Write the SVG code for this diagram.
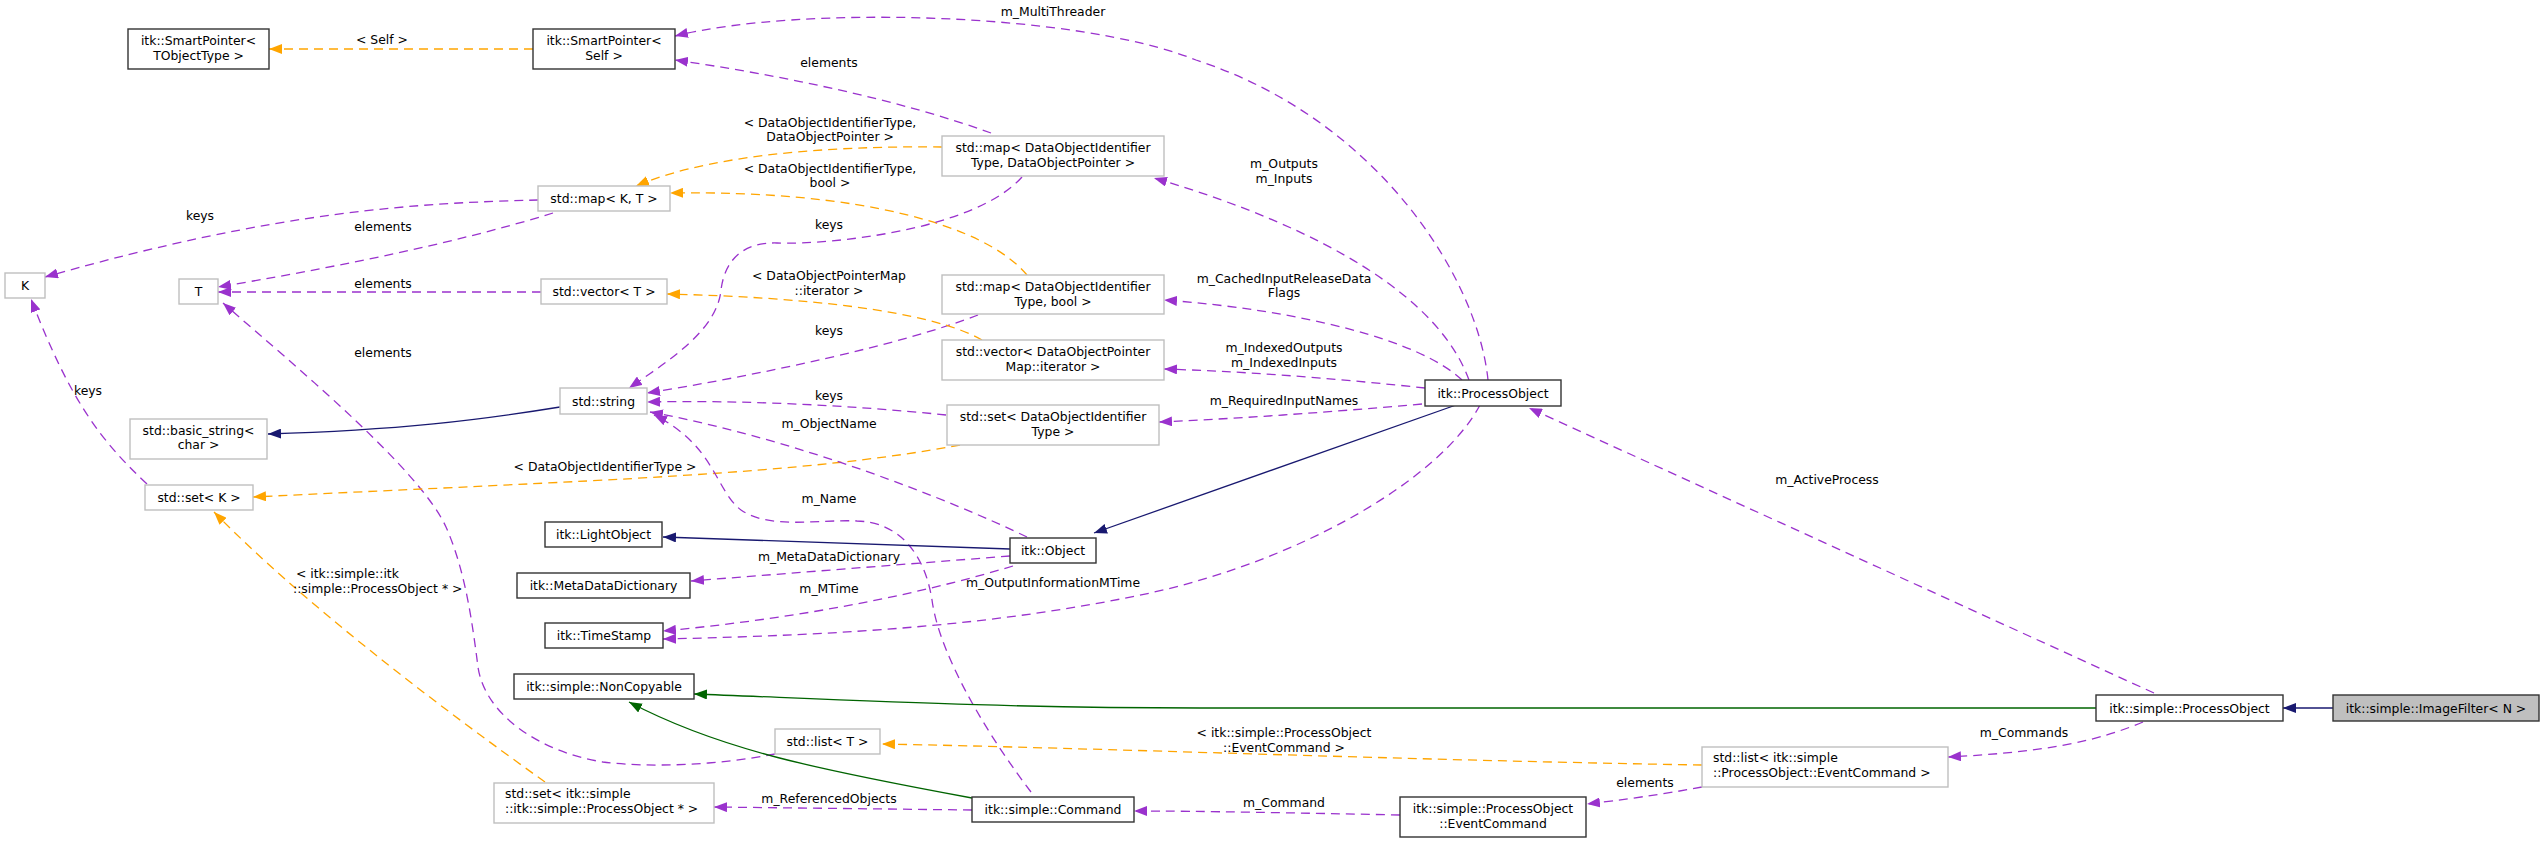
<svg xmlns="http://www.w3.org/2000/svg" width="2544" height="843" viewBox="0 0 2544 843">
<defs>
<style>
text{font-family:"DejaVu Sans","Liberation Sans",sans-serif;font-size:12.4px;fill:#000}
.c{text-anchor:middle}
.s{text-anchor:start}
.nb{fill:#fff;stroke:#333;stroke-width:1.4}
.ng{fill:#fff;stroke:#bfbfbf;stroke-width:1.4}
.nf{fill:#bfbfbf;stroke:#333;stroke-width:1.4}
.e{fill:none;stroke-width:1.3}
.p{stroke:#9a32cd;stroke-dasharray:9,6;marker-end:url(#ap)}
.o{stroke:#ffa500;stroke-dasharray:9,6;marker-end:url(#ao)}
.n{stroke:#191970;marker-end:url(#an)}
.g{stroke:#006400;marker-end:url(#ag)}
</style>
<marker id="ap" markerUnits="userSpaceOnUse" markerWidth="14" markerHeight="10" refX="13" refY="5" orient="auto"><path d="M0,0L13,5L0,10z" fill="#9a32cd"/></marker>
<marker id="ao" markerUnits="userSpaceOnUse" markerWidth="14" markerHeight="10" refX="13" refY="5" orient="auto"><path d="M0,0L13,5L0,10z" fill="#ffa500"/></marker>
<marker id="an" markerUnits="userSpaceOnUse" markerWidth="14" markerHeight="10" refX="13" refY="5" orient="auto"><path d="M0,0L13,5L0,10z" fill="#191970"/></marker>
<marker id="ag" markerUnits="userSpaceOnUse" markerWidth="14" markerHeight="10" refX="13" refY="5" orient="auto"><path d="M0,0L13,5L0,10z" fill="#006400"/></marker>
</defs>
<rect width="2544" height="843" fill="#fff"/>
<g id="connectors">
<path class="e o" d="M533,49L269,49"/>
<path class="e p" d="M1488,380C1478,280 1380,120 1196,60C1076,12 800,5 675,36"/>
<path class="e p" d="M991,133C900,100 780,75 675,60"/>
<path class="e o" d="M942,147C860,146 720,150 636,186"/>
<path class="e o" d="M1027,275C985,225 860,190 670,193"/>
<path class="e p" d="M1022,177C975,230 830,245 777,243C745,242 725,258 721,290C717,330 670,360 629,388"/>
<path class="e p" d="M978,315C900,345 760,375 647,393"/>
<path class="e p" d="M946,415C850,405 740,400 647,402"/>
<path class="e o" d="M982,340C930,310 800,297 667,294"/>
<path class="e p" d="M538,200C420,203 280,210 45,277"/>
<path class="e p" d="M553,213C450,245 320,270 218,287"/>
<path class="e p" d="M541,292L218,292"/>
<path class="e p" d="M775,754C720,765 650,768 603,762C540,752 485,715 478,667C472,620 465,570 446,527C420,470 300,370 223,303"/>
<path class="e p" d="M147,484C100,440 70,400 31,299"/>
<path class="e o" d="M960,445C800,475 600,480 253,497"/>
<path class="e o" d="M545,782C430,700 300,600 214,512"/>
<path class="e n" d="M560,407C480,420 400,430 268,434"/>
<path class="e p" d="M1027,537C950,500 800,440 650,412"/>
<path class="e p" d="M1031,792C995,745 940,660 932,600C925,555 900,522 857,521C820,519 770,530 741,510C715,490 715,445 654,415"/>
<path class="e p" d="M1469,380C1440,300 1330,230 1154,178"/>
<path class="e p" d="M1462,380C1420,340 1300,310 1164,300"/>
<path class="e p" d="M1425,388C1350,380 1260,372 1164,369"/>
<path class="e p" d="M1422,404C1330,412 1250,418 1159,422"/>
<path class="e n" d="M1456,405L1094,533"/>
<path class="e p" d="M1480,405C1440,480 1300,560 1150,593C1000,625 850,635 663,639"/>
<path class="e n" d="M1010,549L663,537"/>
<path class="e p" d="M1010,556L691,581"/>
<path class="e p" d="M1013,566C900,600 780,620 663,631"/>
<path class="e g" d="M2096,708L1200,708C1000,708 850,700 694,694"/>
<path class="e g" d="M972,798C820,770 720,750 629,702"/>
<path class="e o" d="M1702,765C1400,760 1100,748 882,744"/>
<path class="e p" d="M972,810L714,807"/>
<path class="e p" d="M1400,815C1300,813 1200,811 1134,811"/>
<path class="e p" d="M1702,787C1660,795 1620,800 1587,804"/>
<path class="e p" d="M2154,693L1529,408"/>
<path class="e p" d="M2143,722C2100,740 2050,752 1948,757"/>
<path class="e n" d="M2333,708L2283,708"/>
</g>
<g id="edge-labels">
<text class="c" x="382" y="44">&lt; Self &gt;</text>
<text class="c" x="1053" y="16">m_MultiThreader</text>
<text class="c" x="829" y="67">elements</text>
<text class="c" x="830" y="127">&lt; DataObjectIdentifierType,</text>
<text class="c" x="830" y="141">DataObjectPointer &gt;</text>
<text class="c" x="830" y="173">&lt; DataObjectIdentifierType,</text>
<text class="c" x="830" y="187">bool &gt;</text>
<text class="c" x="829" y="229">keys</text>
<text class="c" x="829" y="280">&lt; DataObjectPointerMap</text>
<text class="c" x="829" y="295">::iterator &gt;</text>
<text class="c" x="829" y="335">keys</text>
<text class="c" x="829" y="400">keys</text>
<text class="c" x="200" y="220">keys</text>
<text class="c" x="383" y="231">elements</text>
<text class="c" x="383" y="288">elements</text>
<text class="c" x="383" y="357">elements</text>
<text class="c" x="88" y="395">keys</text>
<text class="c" x="605" y="471">&lt; DataObjectIdentifierType &gt;</text>
<text class="s" x="296" y="578">&lt; itk::simple::itk</text>
<text class="s" x="293" y="593">::simple::ProcessObject * &gt;</text>
<text class="c" x="829" y="428">m_ObjectName</text>
<text class="c" x="829" y="503">m_Name</text>
<text class="c" x="829" y="561">m_MetaDataDictionary</text>
<text class="c" x="829" y="593">m_MTime</text>
<text class="c" x="1053" y="587">m_OutputInformationMTime</text>
<text class="c" x="829" y="803">m_ReferencedObjects</text>
<text class="c" x="1284" y="168">m_Outputs</text>
<text class="c" x="1284" y="183">m_Inputs</text>
<text class="c" x="1284" y="283">m_CachedInputReleaseData</text>
<text class="c" x="1284" y="297">Flags</text>
<text class="c" x="1284" y="352">m_IndexedOutputs</text>
<text class="c" x="1284" y="367">m_IndexedInputs</text>
<text class="c" x="1284" y="405">m_RequiredInputNames</text>
<text class="c" x="1827" y="484">m_ActiveProcess</text>
<text class="c" x="1284" y="737">&lt; itk::simple::ProcessObject</text>
<text class="c" x="1284" y="752">::EventCommand &gt;</text>
<text class="c" x="1645" y="787">elements</text>
<text class="c" x="1284" y="807">m_Command</text>
<text class="c" x="2024" y="737">m_Commands</text>
</g>
<g id="n-smartptr-tobj"><rect class="nb" x="128" y="29" width="141" height="40"/><text class="c" x="198.5" y="44.5">itk::SmartPointer&lt;</text><text class="c" x="198.5" y="59.5">TObjectType &gt;</text></g>
<g id="n-smartptr-self"><rect class="nb" x="533" y="29" width="142" height="40"/><text class="c" x="604" y="44.5">itk::SmartPointer&lt;</text><text class="c" x="604" y="59.5">Self &gt;</text></g>
<g id="n-map-kt"><rect class="ng" x="538" y="186" width="132" height="25"/><text class="c" x="604" y="203">std::map&lt; K, T &gt;</text></g>
<g id="n-k"><rect class="ng" x="5" y="273" width="40" height="25"/><text class="c" x="25" y="290">K</text></g>
<g id="n-t"><rect class="ng" x="179" y="279" width="39" height="25"/><text class="c" x="198.5" y="296">T</text></g>
<g id="n-vector-t"><rect class="ng" x="541" y="279" width="126" height="25"/><text class="c" x="604" y="296">std::vector&lt; T &gt;</text></g>
<g id="n-string"><rect class="ng" x="560" y="388" width="87" height="26"/><text class="c" x="603.5" y="405.5">std::string</text></g>
<g id="n-basic-string"><rect class="ng" x="130" y="419" width="137" height="40"/><text class="c" x="198.5" y="435">std::basic_string&lt;</text><text class="c" x="198.5" y="449">char &gt;</text></g>
<g id="n-set-k"><rect class="ng" x="145" y="485" width="108" height="25"/><text class="c" x="199" y="502">std::set&lt; K &gt;</text></g>
<g id="n-lightobject"><rect class="nb" x="545" y="522" width="117" height="25"/><text class="c" x="603.5" y="539">itk::LightObject</text></g>
<g id="n-metadatadictionary"><rect class="nb" x="517" y="573" width="173" height="25"/><text class="c" x="603.5" y="590">itk::MetaDataDictionary</text></g>
<g id="n-timestamp"><rect class="nb" x="545" y="623" width="118" height="25"/><text class="c" x="604" y="640">itk::TimeStamp</text></g>
<g id="n-noncopyable"><rect class="nb" x="514" y="674" width="180" height="25"/><text class="c" x="604" y="691">itk::simple::NonCopyable</text></g>
<g id="n-set-spo"><rect class="ng" x="494" y="783" width="220" height="40"/><text class="s" x="505" y="798">std::set&lt; itk::simple</text><text class="s" x="505" y="813">::itk::simple::ProcessObject * &gt;</text></g>
<g id="n-map-doid-doptr"><rect class="ng" x="942" y="136" width="222" height="40"/><text class="c" x="1053" y="151.5">std::map&lt; DataObjectIdentifier</text><text class="c" x="1053" y="166.5">Type, DataObjectPointer &gt;</text></g>
<g id="n-map-doid-bool"><rect class="ng" x="942" y="275" width="222" height="39"/><text class="c" x="1053" y="291">std::map&lt; DataObjectIdentifier</text><text class="c" x="1053" y="305.5">Type, bool &gt;</text></g>
<g id="n-vector-doptrmap"><rect class="ng" x="942" y="340" width="222" height="40"/><text class="c" x="1053" y="356">std::vector&lt; DataObjectPointer</text><text class="c" x="1053" y="371">Map::iterator &gt;</text></g>
<g id="n-set-doid"><rect class="ng" x="947" y="405" width="212" height="40"/><text class="c" x="1053" y="420.5">std::set&lt; DataObjectIdentifier</text><text class="c" x="1053" y="436">Type &gt;</text></g>
<g id="n-object"><rect class="nb" x="1010" y="538" width="86" height="25"/><text class="c" x="1053" y="555">itk::Object</text></g>
<g id="n-list-t"><rect class="ng" x="775" y="729" width="105" height="25"/><text class="c" x="827.5" y="746">std::list&lt; T &gt;</text></g>
<g id="n-command"><rect class="nb" x="972" y="797" width="162" height="25"/><text class="c" x="1053" y="814">itk::simple::Command</text></g>
<g id="n-processobject"><rect class="nb" x="1425" y="380" width="136" height="26"/><text class="c" x="1493" y="397.5">itk::ProcessObject</text></g>
<g id="n-list-eventcommand"><rect class="ng" x="1702" y="747" width="246" height="40"/><text class="s" x="1713" y="762">std::list&lt; itk::simple</text><text class="s" x="1713" y="777">::ProcessObject::EventCommand &gt;</text></g>
<g id="n-eventcommand"><rect class="nb" x="1400" y="797" width="186" height="40"/><text class="c" x="1493" y="812.5">itk::simple::ProcessObject</text><text class="c" x="1493" y="827.5">::EventCommand</text></g>
<g id="n-simple-processobject"><rect class="nb" x="2096" y="695" width="187" height="26"/><text class="c" x="2189.5" y="712.5">itk::simple::ProcessObject</text></g>
<g id="n-imagefilter"><rect class="nf" x="2333" y="695" width="206" height="26"/><text class="c" x="2436" y="712.5">itk::simple::ImageFilter&lt; N &gt;</text></g>
</svg>
